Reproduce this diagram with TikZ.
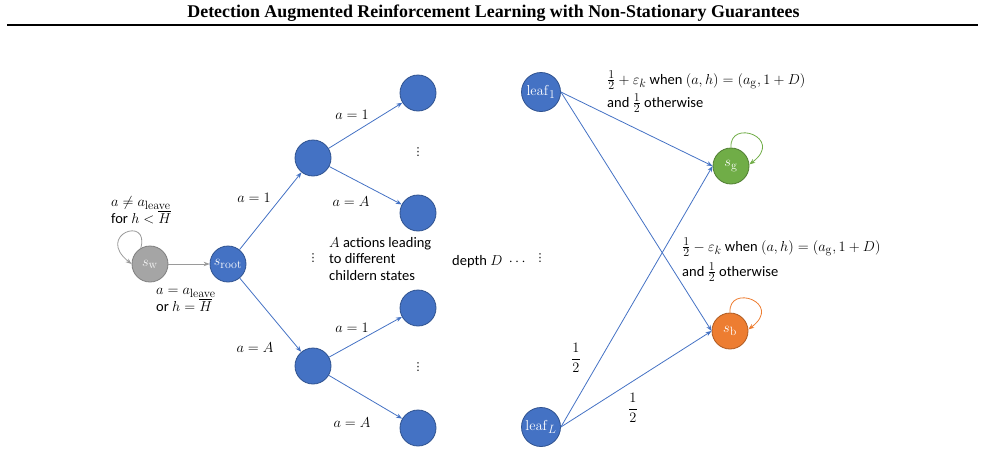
\documentclass[tikz,border=0pt]{standalone}
\usepackage{amsmath}
\usepackage[no-math]{fontspec}
\setmainfont{Carlito}
\newfontfamily\titlefont{Liberation Serif}
\newfontfamily\dejavu{DejaVu Sans}
\DeclareMathSizes{14.5}{15.5}{11.5}{9}
\usetikzlibrary{arrows.meta}
\definecolor{bfill}{HTML}{4472C4}
\definecolor{bdraw}{HTML}{2F528F}
\definecolor{gfill}{HTML}{A5A5A5}
\definecolor{gdraw}{HTML}{7F7F7F}
\definecolor{garrow}{HTML}{9A9A9A}
\definecolor{grfill}{HTML}{70AD47}
\definecolor{grdraw}{HTML}{507E32}
\definecolor{ofill}{HTML}{ED7D31}
\definecolor{odraw}{HTML}{AE5A21}
\tikzset{
  st/.style={circle, minimum size=36, inner sep=0, line width=0.8, text=white, font=\fontsize{14.5}{14.5}\selectfont},
  bstate/.style={st, fill=bfill, draw=bdraw},
  lstate/.style={bstate, minimum size=39},
  gstate/.style={st, fill=gfill, draw=gdraw, text=white!92!gray},
  grstate/.style={st, fill=grfill, draw=grdraw},
  ostate/.style={st, fill=ofill, draw=odraw},
  arr/.style={-{Stealth[length=6,width=4.5]}, line width=0.8},
  barr/.style={arr, draw=bfill},
  lbl/.style={font=\fontsize{14.5}{15}\selectfont, inner sep=0},
  dots/.style={font=\dejavu\fontsize{11}{11}\selectfont, inner sep=0},
}
\begin{document}
\begin{tikzpicture}[x=1pt,y=-1pt]
\useasboundingbox (0,0) rectangle (985,453);
% header
\node[font=\titlefont\bfseries\fontsize{17.9}{20}\selectfont, inner sep=0] (title) at (493.5,13) {Detection Augmented Reinforcement Learning with Non-Stationary Guarantees};
\draw[line width=2] (7,25) -- (978,25);

% states
\node[gstate] (sw) at (150,264) {$s_{\mathrm{w}}$};
\node[bstate] (root) at (228,264) {$s_{\mathrm{root}}$};
\node[bstate] (m1) at (313,158) {};
\node[bstate] (m2) at (313,366) {};
\node[bstate] (l11) at (418,93) {};
\node[bstate] (l12) at (418,213) {};
\node[bstate] (l21) at (418,308) {};
\node[bstate] (l22) at (418,428) {};
\node[lstate] (leaf1) at (541,92) {$\mathrm{leaf}_1$};
\node[lstate] (leafL) at (541,427) {$\mathrm{leaf}_L$};
\node[grstate] (sg) at (731,166) {$s_{\mathrm{g}}$};
\node[ostate] (sb) at (730,331) {$s_{\mathrm{b}}$};

% edges
\draw[arr, draw=garrow] (sw.120) .. controls (150,215) and (95,235) .. (sw.180);
\draw[arr, draw=garrow] (sw) -- (root);
\draw[barr] (root) -- (m1);
\draw[barr] (root) -- (m2);
\draw[barr] (m1) -- (l11);
\draw[barr] (m1) -- (l12);
\draw[barr] (m2) -- (l21);
\draw[barr] (m2) -- (l22);
\draw[barr] (leaf1.east) -- (sg.west);
\draw[barr] (leaf1.east) -- (sb.west);
\draw[barr] (leafL.east) -- (sg.west);
\draw[barr] (leafL.east) -- (sb.west);
\draw[arr, draw=grfill] (sg.90) .. controls (729,118) and (785,138) .. (sg.5);
\draw[arr, draw=ofill] (sb.90) .. controls (728,283) and (784,303) .. (sb.5);

% labels
\node[lbl, anchor=west, align=left] (t1) at (111,210) {$a\neq a_{\mathrm{leave}}$\\for $h<\overline{H}$};
\node[lbl, anchor=west, align=left] (t2) at (156,300) {$a=a_{\mathrm{leave}}$\\or $h=\overline{H}$};
\node[lbl] (e1) at (254,198) {$a=1$};
\node[lbl] (e2) at (255,348) {$a=A$};
\node[lbl] (e3) at (352,115) {$a=1$};
\node[lbl] (e4) at (351,202) {$a=A$};
\node[lbl] (e5) at (352,328) {$a=1$};
\node[lbl] (e6) at (352,423) {$a=A$};
\node[dots] (d1) at (418,152) {⋮};
\node[dots] (d2) at (418,367) {⋮};
\node[dots] (d3) at (313,258) {⋮};
\node[dots] (d4) at (540,258) {⋮};
\node[lbl, anchor=west, align=left, font=\fontsize{14.5}{16.5}\selectfont] (t3) at (329,259) {$A$ actions leading\\to different\\childern states};
\node[lbl, anchor=west] (t4) at (452,262) {depth $D\;\cdots$};
\node[lbl, anchor=base west] (p1) at (607,84) {$\tfrac{1}{2}+\varepsilon_k$ when $(a,h)=(a_{\mathrm{g}},1+D)$};
\node[lbl, anchor=base west] (p2) at (607,107) {and $\tfrac{1}{2}$ otherwise};
\node[lbl, anchor=base west] (q1) at (682,251) {$\tfrac{1}{2}-\varepsilon_k$ when $(a,h)=(a_{\mathrm{g}},1+D)$};
\node[lbl, anchor=base west] (q2) at (682,276) {and $\tfrac{1}{2}$ otherwise};
\node[lbl] (f1) at (576,358) {$\dfrac{1}{2}$};
\node[lbl] (f2) at (633,408) {$\dfrac{1}{2}$};
\end{tikzpicture}
\end{document}
